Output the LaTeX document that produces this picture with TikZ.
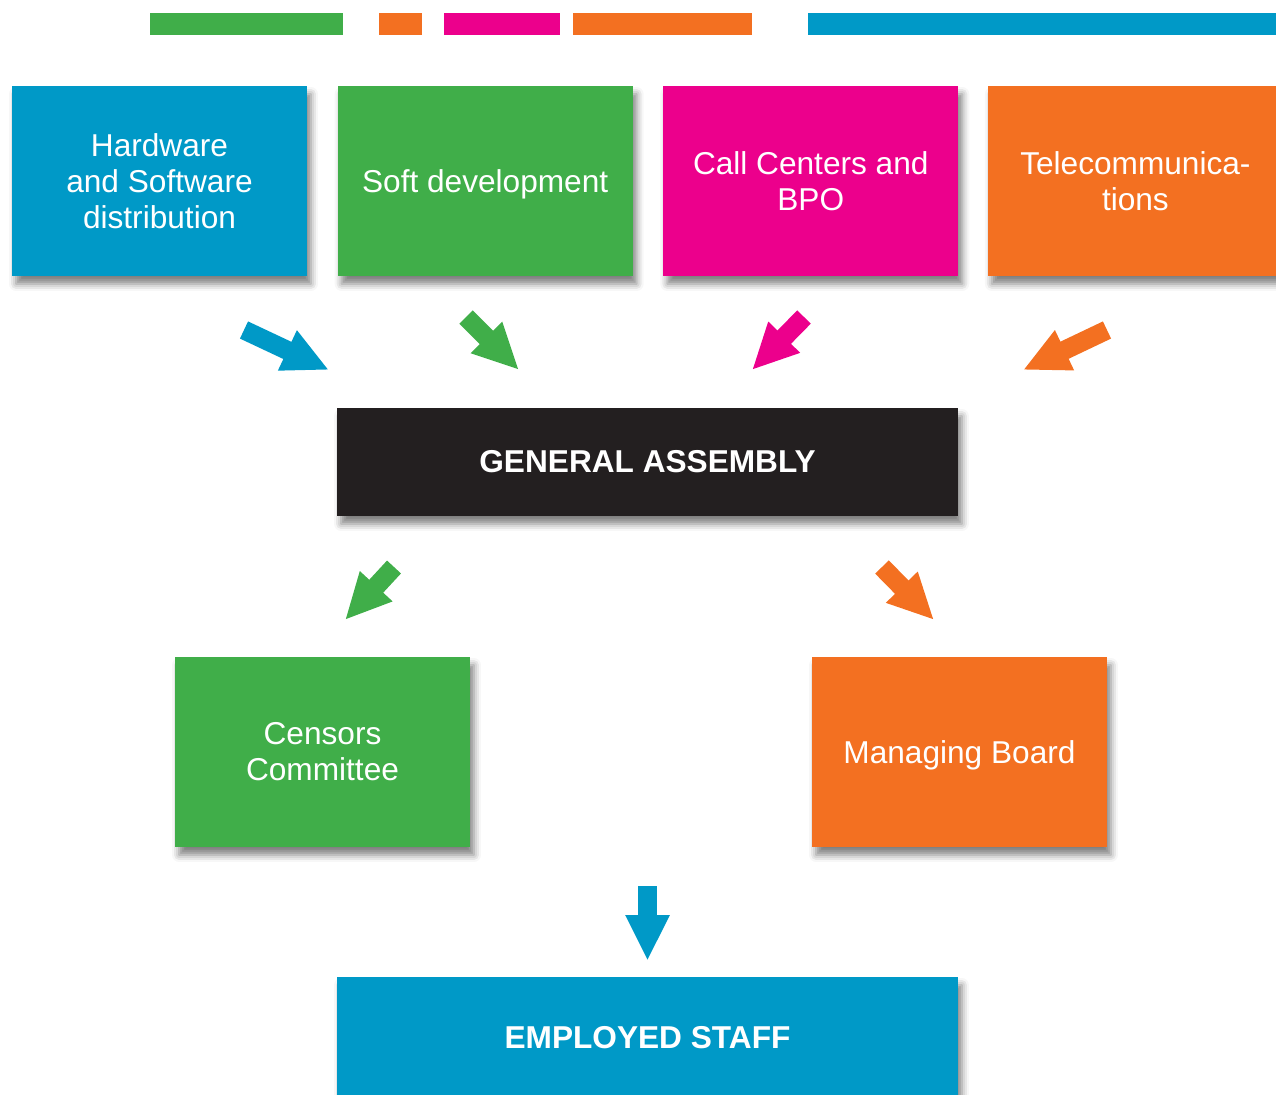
\documentclass[tikz,border=0pt]{standalone}
\usepackage{fontspec}
\setmainfont{Liberation Sans}
\usepackage{tikz}
\usetikzlibrary{positioning, arrows.meta, shadows.blur}
\definecolor{secblue}{RGB}{0, 153, 199}
\definecolor{secgreen}{RGB}{64, 174, 73}
\definecolor{secmagenta}{RGB}{236, 0, 140}
\definecolor{secorange}{RGB}{243, 112, 33}
\definecolor{gablack}{RGB}{35, 31, 32}
\tikzset{
  sect/.style={fill=#1, text=white, align=center,
               font=\fontsize{18}{20.5}\selectfont, inner sep=4pt,
               minimum width=5.9cm, minimum height=3.8cm,
               blur shadow={shadow xshift=0.08cm, shadow yshift=-0.16cm,
                            shadow blur radius=0.14cm, shadow opacity=50}},
  body/.style={fill=#1, text=white, align=center,
               font=\fontsize{18}{20.5}\selectfont\bfseries, inner sep=4pt,
               minimum width=12.42cm,
               blur shadow={shadow xshift=0.08cm, shadow yshift=-0.16cm,
                            shadow blur radius=0.14cm, shadow opacity=50}},
  fat/.style={draw=#1, line width=0.38cm,
              -{Triangle[length=0.92cm, width=0.82cm]}},
}

\begin{document}
\begin{tikzpicture}[x=0.02cm, y=-0.02cm, node distance=0.6cm]
  \useasboundingbox (0,0) rectangle (1276,1095);
  % colour strip along the top
  \fill[secgreen] (150,13) rectangle (343,35);
  \fill[secorange] (379,13) rectangle (422,35);
  \fill[secmagenta] (444,13) rectangle (560,35);
  \fill[secorange] (573,13) rectangle (752,35);
  \fill[secblue] (808,13) rectangle (1276,35);
  % Sectors
  \node[sect=secblue] (hw) at (159.5,181) {Hardware\\ and Software\\ distribution};
  \node[sect=secgreen, text depth=0pt, right=of hw] (soft) {Soft development};
  \node[sect=secmagenta, right=of soft] (call) {Call Centers and\\ BPO};
  \node[sect=secorange, right=0.58cm of call] (tele) {Telecommunica-\\ tions};
  % Assembly and bodies below it
  \node[body=gablack, minimum height=2.16cm] (ga) at (647.5,462) {GENERAL ASSEMBLY};
  \node[sect=secgreen] (cens) at (322.5,752) {Censors\\ Committee};
  \node[sect=secorange, text depth=0pt] (mgmt) at (959.5,752) {Managing Board};
  \node[body=secblue, minimum height=2.44cm] (staff) at (647.5,1038) {EMPLOYED STAFF};
  % Arrow ends
  \coordinate (hwA) at (244,330);   \coordinate (hwB) at (329,370);
  \coordinate (softA) at (466,317); \coordinate (softB) at (519,370);
  \coordinate (callA) at (804,317); \coordinate (callB) at (752,370);
  \coordinate (teleA) at (1107,330); \coordinate (teleB) at (1023,370);
  \coordinate (censA) at (394,567); \coordinate (censB) at (345,620);
  \coordinate (mgmtA) at (882,567); \coordinate (mgmtB) at (934,620);
  \coordinate (staffA) at (647.5,886); \coordinate (staffB) at (647.5,961);
  % Arrows
  \draw[fat=secblue] (hwA) -- (hwB);
  \draw[fat=secgreen] (softA) -- (softB);
  \draw[fat=secmagenta] (callA) -- (callB);
  \draw[fat=secorange] (teleA) -- (teleB);
  \draw[fat=secgreen] (censA) -- (censB);
  \draw[fat=secorange] (mgmtA) -- (mgmtB);
  \draw[fat=secblue] (staffA) -- (staffB);
\end{tikzpicture}
\end{document}
